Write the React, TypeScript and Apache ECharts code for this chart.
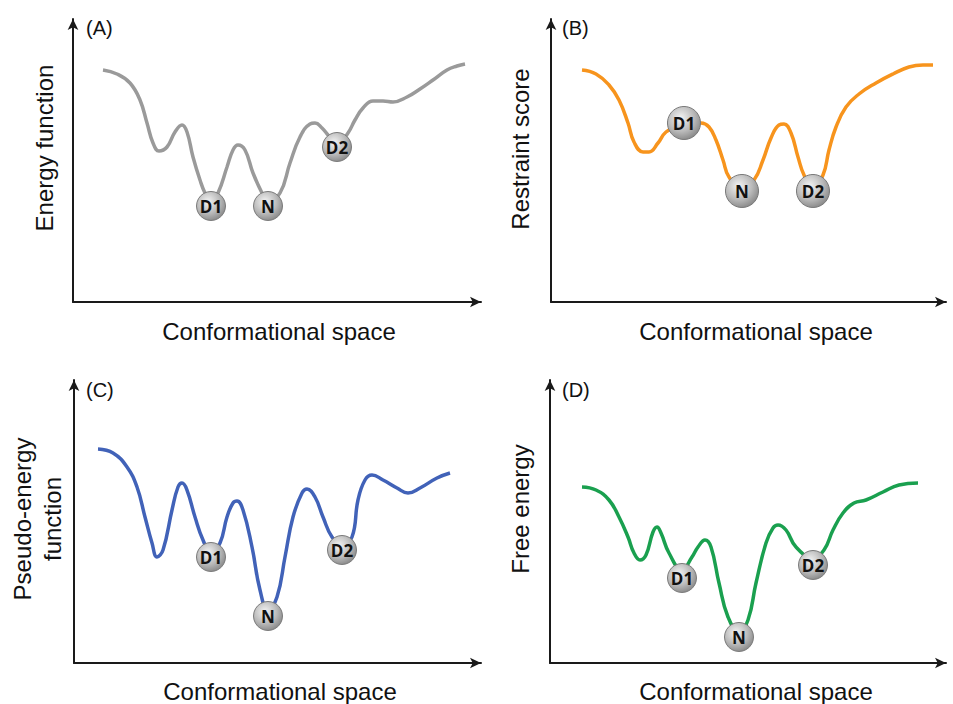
import React, { useEffect, useRef } from "react";
import * as echarts from "echarts";

// Curves: [conformational coordinate, energy-like value]
const energyCurve = [
  [30, 232], [44, 228], [57, 219], [67, 202], [74, 179], [80, 159], [86, 151], [94, 155], [102, 170],
  [109, 177], [114, 170], [120, 145], [127, 122], [132, 109], [138, 100], [145, 109], [154, 135],
  [160, 152], [165, 157], [172, 152], [180, 129], [189, 109], [195, 100], [207, 109], [217, 139],
  [227, 165], [237, 178], [242, 179], [249, 174], [255, 167], [264, 157], [275, 169], [282, 182],
  [290, 194], [300, 201], [310, 201], [320, 200], [334, 205], [347, 213], [360, 222], [374, 232],
  [384, 236], [392, 238],
];
const restraintCurve = [
  [31, 232], [45, 228], [58, 217], [68, 202], [77, 179], [83, 160], [92, 150], [98, 150], [107, 159],
  [115, 170], [125, 174], [133, 176], [142, 179], [150, 179], [158, 175], [165, 162], [172, 142],
  [178, 125], [191, 114], [203, 122], [212, 142], [220, 164], [228, 177], [233, 178], [240, 169],
  [247, 145], [253, 127], [262, 114], [272, 127], [278, 152], [285, 175], [295, 195], [308, 208],
  [325, 219], [342, 228], [358, 235], [372, 237], [382, 237],
];
const pseudoCurve = [
  [24, 214], [39, 210], [53, 196], [63, 176], [71, 146], [78, 120], [83, 106], [89, 113], [98, 153],
  [104, 176], [108, 180], [113, 173], [121, 146], [129, 123], [137, 110], [146, 120], [153, 146],
  [159, 160], [163, 162], [169, 153], [178, 116], [186, 73], [194, 53], [203, 66], [211, 106],
  [219, 146], [228, 170], [233, 174], [241, 166], [249, 146], [258, 126], [268, 118], [278, 126],
  [284, 163], [291, 183], [298, 188], [309, 183], [323, 175], [334, 170], [346, 175], [363, 185],
  [376, 190],
];
const freeCurve = [
  [32, 176], [46, 173], [59, 163], [69, 146], [78, 126], [84, 110], [90, 103], [96, 108], [103, 131],
  [107, 136], [111, 130], [119, 110], [132, 93], [142, 106], [148, 116], [155, 123], [161, 116],
  [169, 80], [178, 46], [189, 31], [198, 43], [206, 80], [216, 120], [223, 135], [228, 138],
  [236, 133], [246, 116], [263, 105], [274, 113], [283, 133], [293, 150], [304, 160], [316, 163],
  [333, 171], [349, 178], [368, 180],
];

// State markers (D1, N, D2)
const stateLabels = ["D1", "N", "D2"];
const energyStates = [[138, 96], [195, 96], [264, 155]];
const restraintStates = [[133, 179], [191, 111], [262, 111]];
const pseudoStates = [[137, 106], [194, 47], [268, 113]];
const freeStates = [[132, 85], [189, 26], [263, 98]];

const panelTags = ["(A)", "(B)", "(C)", "(D)"];
const yTitles = ["Energy function", "Restraint score", "Pseudo-energy\nfunction", "Free energy"];
const xTitle = "Conformational space";

const panels = [
  { curve: energyCurve, states: energyStates, color: "#9a9a9a", ball: 29, grid: { left: 73, top: 19, width: 408, height: 283 }, yTitlePos: [44, 148], tagPos: [86, 28], xTitlePos: [279, 331] },
  { curve: restraintCurve, states: restraintStates, color: "#f7941d", ball: 33, grid: { left: 551, top: 19, width: 395, height: 283 }, yTitlePos: [520, 149], tagPos: [562, 28], xTitlePos: [756, 331] },
  { curve: pseudoCurve, states: pseudoStates, color: "#4162b8", ball: 29, grid: { left: 74, top: 380, width: 407, height: 283 }, yTitlePos: [37, 519], tagPos: [86, 390], xTitlePos: [280, 691] },
  { curve: freeCurve, states: freeStates, color: "#1aa04f", ball: 29, grid: { left: 550, top: 380, width: 396, height: 283 }, yTitlePos: [520, 509], tagPos: [562, 390], xTitlePos: [756, 691] },
];

const FONT = "'Liberation Sans', Arial, sans-serif";

export default function App() {
  const ref = useRef<HTMLDivElement>(null);
  useEffect(() => {
    if (!ref.current) return;
    const chart = echarts.init(ref.current, null, { renderer: "svg" });
    const axisLine = {
      show: true,
      onZero: false,
      symbol: ["none", "arrow"],
      symbolSize: [8, 11],
      lineStyle: { color: "#1a1a1a", width: 2 },
    };
    const ballColor = {
      type: "radial",
      x: 0.4,
      y: 0.35,
      r: 0.75,
      colorStops: [
        { offset: 0, color: "#f4f4f4" },
        { offset: 0.55, color: "#b9b9b9" },
        { offset: 1, color: "#7c7c7c" },
      ],
    };
    const grid: any[] = [];
    const xAxis: any[] = [];
    const yAxis: any[] = [];
    const series: any[] = [];
    const graphic: any[] = [];
    panels.forEach((p, i) => {
      grid.push({ ...p.grid, containLabel: false });
      xAxis.push({
        type: "value", gridIndex: i, min: 0, max: p.grid.width,
        axisLine, axisTick: { show: false }, axisLabel: { show: false }, splitLine: { show: false },
      });
      yAxis.push({
        type: "value", gridIndex: i, min: 0, max: p.grid.height,
        axisLine, axisTick: { show: false }, axisLabel: { show: false }, splitLine: { show: false },
      });
      series.push({
        type: "line", xAxisIndex: i, yAxisIndex: i, data: p.curve, smooth: 0.45,
        symbol: "none", lineStyle: { color: p.color, width: 3.5 }, z: 2,
      });
      series.push({
        type: "scatter", xAxisIndex: i, yAxisIndex: i, symbolSize: p.ball, z: 3,
        data: p.states.map((s, k) => ({ name: stateLabels[k], value: s })),
        itemStyle: { color: ballColor, borderColor: "#7a7a7a", borderWidth: 1, opacity: 1 },
        label: {
          show: true, position: "inside", formatter: "{b}", color: "#111",
          fontFamily: "'Open Sans', sans-serif", fontWeight: "bold", fontSize: 17,
        },
      });
      graphic.push({
        type: "text", x: p.tagPos[0], y: p.tagPos[1],
        style: { text: panelTags[i], font: `20px ${FONT}`, fill: "#111", textAlign: "left", textVerticalAlign: "middle" },
      });
      graphic.push({
        type: "text", x: p.yTitlePos[0], y: p.yTitlePos[1], rotation: Math.PI / 2,
        style: { text: yTitles[i], font: `24px ${FONT}`, fill: "#111", textAlign: "center", textVerticalAlign: "middle", lineHeight: 30 },
      });
      graphic.push({
        type: "text", x: p.xTitlePos[0], y: p.xTitlePos[1],
        style: { text: xTitle, font: `24px ${FONT}`, fill: "#111", textAlign: "center", textVerticalAlign: "middle" },
      });
    });
    chart.setOption({ animation: false, backgroundColor: "#fff", grid, xAxis, yAxis, series, graphic });
    return () => chart.dispose();
  }, []);
  return <div ref={ref} style={{ position: "absolute", left: 0, top: 0, width: 953, height: 704 }} />;
}
